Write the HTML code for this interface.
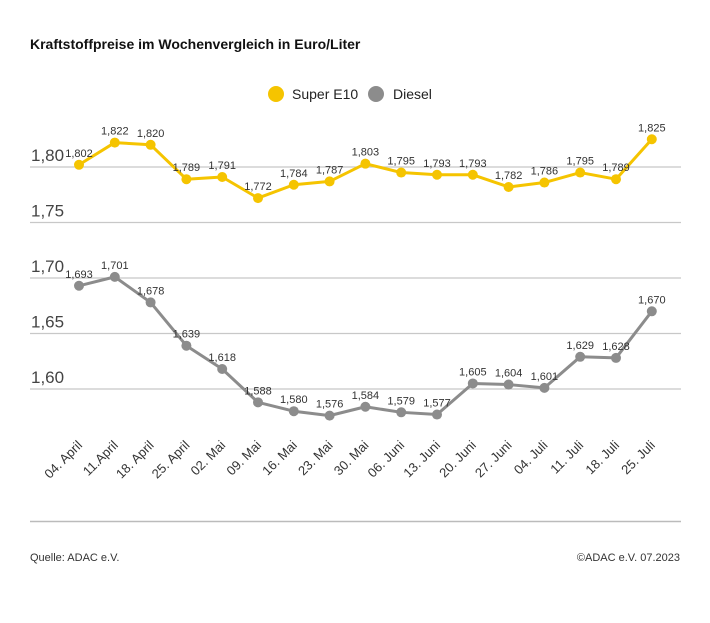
<!DOCTYPE html>
<html><head><meta charset="utf-8"><style>
body{margin:0;background:#fff;}
svg{display:block;font-family:"Liberation Sans",sans-serif;}
</style></head><body>
<svg id="c" width="710" height="623">
<text x="30" y="49" font-size="14" font-weight="bold" fill="#111">Kraftstoffpreise im Wochenvergleich in Euro/Liter</text>
<g>
<circle cx="276" cy="94" r="8" fill="#f5c400"/>
<text x="292" y="99" font-size="14" fill="#222">Super E10</text>
<circle cx="376" cy="94" r="8" fill="#8c8c8c"/>
<text x="393" y="99" font-size="14" fill="#222">Diesel</text>
</g>
<g id="grid"></g><g id="lines"></g><g id="xl"></g>
<line x1="30" x2="681" y1="521.5" y2="521.5" stroke="#bbb" stroke-width="1.5"/>
<text x="30" y="561" font-size="11" fill="#333">Quelle: ADAC e.V.</text>
<text x="680" y="561" font-size="11" fill="#333" text-anchor="end">©ADAC e.V. 07.2023</text>
</svg>
<script>
const categories=["04. April","11.April","18. April","25. April","02. Mai","09. Mai","16. Mai","23. Mai","30. Mai","06. Juni","13. Juni","20. Juni","27. Juni","04. Juli","11. Juli","18. Juli","25. Juli"];
const superE10=[1.802,1.822,1.820,1.789,1.791,1.772,1.784,1.787,1.803,1.795,1.793,1.793,1.782,1.786,1.795,1.789,1.825];
const diesel=[1.693,1.701,1.678,1.639,1.618,1.588,1.580,1.576,1.584,1.579,1.577,1.605,1.604,1.601,1.629,1.628,1.670];
const yTicks=[1.80,1.75,1.70,1.65,1.60];
const NS="http://www.w3.org/2000/svg";
const x=i=>79+i*35.8;
const y=v=>167+(1.80-v)/0.05*55.5;
const fmt=v=>v.toFixed(3).replace('.',',');
function mk(t,a,p){const e=document.createElementNS(NS,t);for(const k in a)e.setAttribute(k,a[k]);document.getElementById(p).appendChild(e);return e;}
yTicks.forEach(t=>{
 const l=mk('line',{x1:30,x2:681,y1:y(t),y2:y(t),stroke:'#c8c8c8','stroke-width':1.3},'grid');
 
 
 const tx=mk('text',{x:31,y:y(t)-6,'font-size':17,fill:'#444'},'grid');
 tx.textContent=t.toFixed(2).replace('.',',');
 
 
});
function series(vals,col,name){
 const p=mk('polyline',{points:vals.map((v,i)=>x(i)+','+y(v)).join(' '),fill:'none',stroke:col,'stroke-width':3,'stroke-linejoin':'round'},'lines');
 
 
 vals.forEach((v,i)=>{
  const c=mk('circle',{cx:x(i),cy:y(v),r:5,fill:col},'lines');
  
  
  const t=mk('text',{x:x(i),y:y(v)-8,'font-size':11,fill:'#333','text-anchor':'middle'},'lines');
  t.textContent=fmt(v);
  
  
 });
}
series(superE10,'#f5c400','super-e10');
series(diesel,'#8c8c8c','diesel');
categories.forEach((c,i)=>{
 const t=mk('text',{x:x(i)+4,y:446,'font-size':13,fill:'#333','text-anchor':'end',transform:'rotate(-45 '+(x(i)+4)+' 446)'},'xl');
 t.textContent=c;
 
 
});
</script>
</body></html>
